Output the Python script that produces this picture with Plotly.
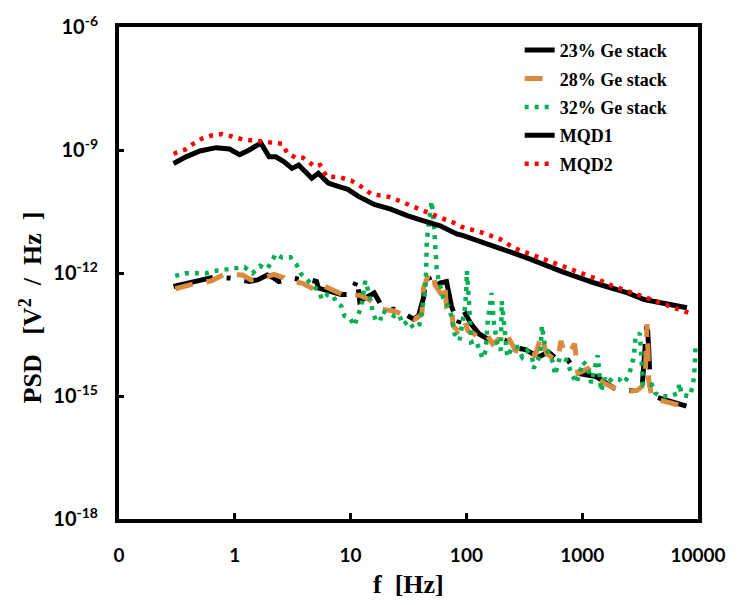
import plotly.graph_objects as go

# ---------------- data ----------------
f_23 = [0.296, 0.397, 0.483, 0.628, 0.917, 1.33, 1.57, 1.91, 2.17, 2.40,
        3.22, 3.79, 4.47, 5.08, 5.27, 8.30, 10.1, 10.7, 11.4, 12.0,
        16.0, 18.2, 20.7, 25.2, 26.9, 35.0, 38.6, 42.6, 44.0, 47.0,
        51.9, 59.0, 67.3, 69.5, 74.3, 84.7, 93.3, 110, 129, 152,
        179, 218, 249, 323, 420, 510, 621, 755, 918, 1318,
        1888, 2980, 3290, 3515, 3630, 3750, 3870, 4140, 6530, 7945]
psd_23 = [4.7e-13, 5.67e-13, 6.8e-13, 7.7e-13, 7.5e-13, 6.2e-13, 6.8e-13, 8.95e-13, 7.5e-13, 6.2e-13,
          7.5e-13, 6.8e-13, 6.8e-13, 6.2e-13, 4.3e-13, 2.97e-13, 2.97e-13, 4.5e-13, 7.2e-13, 2.05e-13,
          3.26e-13, 1.71e-13, 1.3e-13, 1.3e-13, 1.18e-13, 7.5e-14, 8.95e-14, 2.47e-13, 5.67e-13, 8.2e-13,
          4.3e-13, 5.67e-13, 6.2e-13, 3.56e-13, 1.56e-13, 5.66e-14, 1.3e-13, 5.66e-14, 3.26e-14, 2.47e-14,
          2.71e-14, 2.25e-14, 1.56e-14, 1.35e-14, 8.98e-15, 1.18e-14, 7.45e-15, 7.45e-15, 3.57e-15, 2.97e-15,
          1.56e-15, 1.3e-15, 1.56e-15, 2.0e-14, 6.8e-14, 1.5e-14, 1.56e-15, 9.85e-16, 6.8e-16, 5.66e-16]

f_28 = [0.306, 0.410, 0.628, 0.815, 1.17, 1.38, 1.79, 2.17, 2.65, 2.82,
        3.79, 4.61, 5.27, 6.0, 7.29, 8.59, 10.1, 11.9, 14.5, 18.2,
        23.7, 36.1, 41.2, 42.6, 47.0, 51.9, 53.5, 61.0, 65.1, 67.3,
        74.3, 76.7, 84.7, 96.3, 103, 117, 129, 152, 168, 185,
        218, 265, 323, 393, 442, 494, 563, 617, 655, 708,
        781, 861, 918, 1119, 1318, 1552, 1888, 2297, 2980, 3290,
        3515, 3630, 3700, 3750, 4000, 5370, 6530, 8220]
psd_28 = [4.13e-13, 5.15e-13, 6.43e-13, 9.3e-13, 8.95e-13, 6.8e-13, 7.7e-13, 9.3e-13, 7.7e-13, 6.43e-13,
          5.67e-13, 4.3e-13, 3.56e-13, 4.7e-13, 3.56e-13, 2.97e-13, 2.86e-13, 2.86e-13, 2.25e-13, 1.3e-13,
          1.18e-13, 7.5e-14, 9.84e-14, 4.3e-13, 8.95e-13, 1.04e-12, 5.15e-13, 2.97e-13, 5.15e-13, 1.56e-13,
          1.71e-13, 5.15e-14, 3.9e-14, 6.8e-14, 3.9e-14, 3.26e-14, 2.47e-14, 2.96e-14, 1.87e-14, 2.25e-14,
          3.57e-14, 1.29e-14, 1.08e-14, 9.8e-15, 2.96e-14, 1.08e-14, 8.2e-15, 7.75e-15, 2.2e-14, 1.08e-14,
          1.2e-14, 1.87e-14, 3.57e-15, 4.7e-15, 2.97e-15, 2.06e-15, 1.56e-15, 1.3e-15, 1.37e-15, 1.71e-15,
          4.3e-15, 5.66e-14, 1.29e-14, 2.47e-15, 8.97e-16, 7.46e-16, 6.2e-16, 5.15e-16]

f_32 = [0.306, 0.372, 0.459, 0.565, 0.69, 0.843, 1.01, 1.21, 1.42, 1.65,
        1.88, 2.06, 2.25, 2.56, 3.03, 3.43, 3.74, 4.32, 4.76, 5.27,
        5.69, 6.31, 7.05, 7.53, 8.30, 8.87, 9.79, 10.8, 11.5, 12.3,
        13.4, 14.2, 15.5, 16.5, 18.0, 18.8, 21.4, 23.7, 26.1, 28.4,
        31.8, 35.0, 39.4, 41.2, 44.0, 44.9, 45.5, 47.9, 50.1, 52.5,
        53.5, 55.3, 57.2, 61.0, 63.1, 69.5, 74.3, 79.2, 87.3, 93.3,
        96.3, 99.6, 101, 105, 110, 121, 129, 138, 147, 152,
        165, 173, 185, 198, 202, 218, 226, 249, 275, 303,
        334, 369, 380, 434, 449, 478, 528, 563, 582, 643,
        732, 807, 891, 1014, 1119, 1196, 1361, 1455, 1552, 1656,
        1826, 2083, 2297, 2535, 2794, 2890, 3143, 3226, 3356, 4000,
        4276, 4720, 5741, 6755, 6890, 7210, 8490, 9060, 9380, 9530]
psd_32 = [8.48e-13, 9.84e-13, 9.84e-13, 9.84e-13, 1.14e-12, 1.25e-12, 1.30e-12, 1.39e-12, 9.84e-13, 1.5e-12,
          1.25e-12, 1.74e-12, 2.91e-12, 2.38e-12, 2.42e-12, 1.56e-12, 9.46e-13, 6.55e-13, 4.97e-13, 3.7e-13,
          2.25e-13, 2.97e-13, 2.86e-13, 1.88e-13, 1.56e-13, 8.95e-14, 8.2e-14, 5.15e-14, 8.95e-14, 1.42e-13,
          6.43e-13, 3.7e-13, 1.18e-13, 6.8e-14, 6.8e-14, 1.18e-13, 1.02e-13, 8.95e-14, 9.84e-14, 5.45e-14,
          6.8e-14, 4.46e-14, 5.66e-14, 1.42e-13, 3.56e-13, 1.08e-12, 6.2e-12, 2.06e-11, 5.65e-11, 1.42e-11,
          4.28e-12, 1.30e-12, 7.46e-13, 3.91e-13, 2.47e-13, 1.56e-13, 8.95e-14, 3.26e-14, 2.25e-14, 7.46e-14,
          1.08e-13, 3.56e-13, 1.12e-12, 2.25e-13, 2.06e-14, 2.25e-14, 1.29e-14, 8.2e-15, 1.29e-14, 5.66e-14,
          3.26e-13, 5.66e-14, 1.87e-14, 1.29e-14, 2.05e-13, 2.25e-14, 8.98e-15, 1.56e-14, 1.56e-14, 8.98e-15,
          1.29e-14, 8.98e-15, 4.7e-15, 9.8e-15, 5.15e-14, 1.56e-14, 9.8e-15, 6.2e-15, 3.25e-15, 8.98e-15,
          7.45e-15, 3.57e-15, 2.06e-15, 6.8e-15, 5.17e-15, 2.06e-15, 9.8e-15, 1.3e-15, 2.71e-15, 2.06e-15,
          2.71e-15, 2.56e-15, 2.06e-15, 3.25e-15, 8.98e-15, 2.86e-14, 3.38e-14, 1.08e-14, 1.87e-15, 1.87e-15,
          1.18e-15, 9.85e-16, 9.85e-16, 1.18e-15, 2.06e-15, 1.08e-15, 9.85e-16, 1.87e-15, 5.17e-15, 1.68e-14]

f_mqd1 = [0.296, 0.379, 0.50, 0.69, 0.90, 1.10, 1.33, 1.52, 1.68, 1.98,
          2.26, 2.65, 3.12, 3.56, 4.62, 5.27, 6.41, 7.81, 9.47, 11.6,
          16.0, 22.2, 30.8, 42.8, 59.3, 82.4, 94, 181, 347, 668,
          1284, 2470, 3427, 8020]
psd_mqd1 = [4.7e-10, 6.8e-10, 9.46e-10, 1.14e-9, 1.06e-9, 7.7e-10, 1.0e-9, 1.30e-9, 1.47e-9, 6.8e-10,
            6.8e-10, 5.2e-10, 3.56e-10, 4.3e-10, 2.05e-10, 2.7e-10, 1.56e-10, 1.3e-10, 1.1e-10, 7.5e-11,
            4.7e-11, 3.6e-11, 2.5e-11, 1.87e-11, 1.42e-11, 9.0e-12, 8.2e-12, 4.3e-12, 2.25e-12, 1.08e-12,
            5.7e-13, 3.26e-13, 2.25e-13, 1.42e-13]

f_mqd2 = [0.296, 0.372, 0.438, 0.527, 0.641, 0.781, 0.951, 1.17, 1.42, 1.76,
          2.11, 2.57, 2.83, 3.34, 3.87, 4.48, 4.94, 5.45, 6.21, 8.07,
          10.1, 12.0, 15.0, 18.1, 21.5, 25.4, 36.3, 43.4, 59.3, 77.2,
          90.8, 139, 193, 259, 383, 550, 813, 1284, 1783, 2553,
          3660, 5078, 7047, 9030]
psd_mqd2 = [8.1e-10, 1.02e-9, 1.42e-9, 1.94e-9, 2.29e-9, 2.46e-9, 2.13e-9, 1.81e-9, 1.71e-9, 1.62e-9,
            1.58e-9, 1.42e-9, 8.5e-10, 6.5e-10, 6.5e-10, 4.7e-10, 3.9e-10, 4.3e-10, 2.25e-10, 2.16e-10,
            1.8e-10, 1.35e-10, 8.6e-11, 7.7e-11, 7.2e-11, 6.0e-11, 3.9e-11, 3.25e-11, 2.25e-11, 1.7e-11,
            1.34e-11, 9.5e-12, 6.8e-12, 4.05e-12, 2.7e-12, 1.77e-12, 1.23e-12, 7.5e-13, 5.0e-13, 3.45e-13,
            2.5e-13, 1.7e-13, 1.23e-13, 9.8e-14]

x_tickvals = [0.1, 1, 10, 100, 1000, 10000]
x_ticktext = ["0", "1", "10", "100", "1000", "10000"]
y_tickvals = [1e-18, 1e-15, 1e-12, 1e-9, 1e-6]
y_ticktext = ["10<sup>-18</sup>", "10<sup>-15</sup>", "10<sup>-12</sup>",
              "10<sup>-9</sup>", "10<sup>-6</sup>"]

# ---------------- figure ----------------
fig = go.Figure()

series = [
    ("23% Ge stack", f_23, psd_23, "#000000", 5, "40px,14px,4px,14px"),
    ("28% Ge stack", f_28, psd_28, "#DA8A3D", 5, "18px,14px"),
    ("32% Ge stack", f_32, psd_32, "#00B050", 4.5, "4px,6px"),
    ("MQD1", f_mqd1, psd_mqd1, "#000000", 5, "solid"),
    ("MQD2", f_mqd2, psd_mqd2, "#FF0000", 4.5, "4px,6px"),
]
for i, (name, fx, py, col, w, dash) in enumerate(series):
    fig.add_trace(go.Scatter(
        x=fx, y=py, mode="lines", name=name, legendgroup=f"g{i}",
        line=dict(color=col, width=w, dash=dash),
    ))

xtick_font = dict(family="Lato, 'Open Sans', sans-serif", size=19, color="black", weight="bold")
ytick_font = dict(family="Lato, 'Open Sans', sans-serif", size=20, color="black", weight="bold")
title_font = dict(family="'Liberation Serif', 'Times New Roman', serif", size=26, color="black", weight="bold")

fig.update_xaxes(
    type="log", range=[-1, 4],
    tickmode="array", tickvals=x_tickvals, ticktext=x_ticktext,
    ticks="inside", ticklen=6, tickwidth=3, tickcolor="black",
    tickfont=xtick_font, ticklabelstandoff=16,
    showgrid=False, zeroline=False,
    showline=True, linecolor="black", linewidth=4, mirror=True,
)
fig.update_yaxes(
    type="log", range=[-18, -6],
    tickmode="array", tickvals=y_tickvals, ticktext=y_ticktext,
    ticks="inside", ticklen=5, tickwidth=3, tickcolor="black",
    tickfont=ytick_font, ticklabelstandoff=13,
    showgrid=False, zeroline=False,
    showline=True, linecolor="black", linewidth=4, mirror=True,
)

fig.add_annotation(
    text="PSD   [V<sup>2</sup>  /  Hz  ]", textangle=-90,
    xref="paper", yref="paper", x=-0.152, y=0.43,
    xanchor="center", yanchor="middle", showarrow=False, font=title_font,
)
fig.add_annotation(
    text="f  [Hz]",
    xref="paper", yref="paper", x=0.5, y=-0.134,
    xanchor="center", yanchor="middle", showarrow=False, font=title_font,
)

fig.update_layout(
    width=738, height=605,
    margin=dict(l=119, r=33, t=18, b=86),
    paper_bgcolor="white", plot_bgcolor="white",
    showlegend=True,
    legend=dict(
        x=0.692, y=0.99, xanchor="left", yanchor="top",
        bgcolor="rgba(0,0,0,0)", traceorder="grouped", tracegroupgap=2,
        font=dict(family="'Liberation Serif', 'Times New Roman', serif", size=18,
                  color="black", weight="bold"),
    ),
)

fig.write_html("out.html")
